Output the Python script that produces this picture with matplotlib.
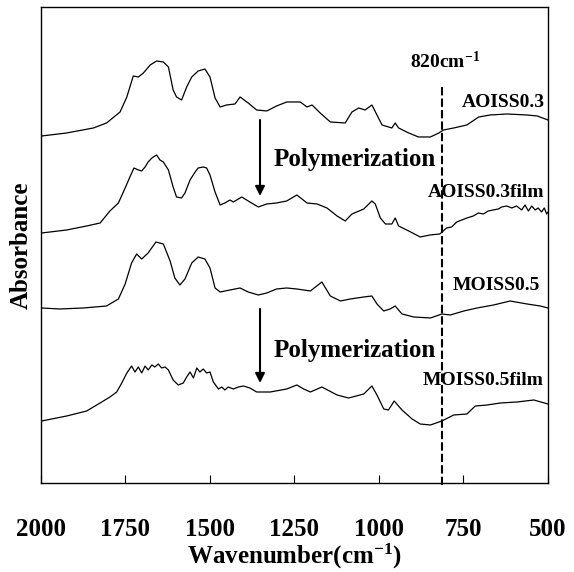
import matplotlib
matplotlib.use("Agg")
import matplotlib.pyplot as plt

# FTIR spectra, absorbance in arbitrary units (offset stacked)
w_aoiss03 = [1998, 1924, 1845, 1806, 1766, 1746, 1727, 1712, 1697, 1677, 1658, 1638, 1623, 1609, 1599,
             1584, 1569, 1554, 1535, 1515, 1500, 1485, 1470, 1451, 1426, 1411, 1387, 1362, 1332, 1303,
             1273, 1233, 1213, 1198, 1174, 1144, 1100, 1080, 1060, 1041, 1021, 1006, 991, 962, 952,
             942, 912, 883, 848, 823, 809, 779, 740, 705, 671, 621, 562, 532, 500]
a_aoiss03 = [3.47, 3.50, 3.55, 3.60, 3.71, 3.86, 4.07, 4.06, 4.10, 4.18, 4.22, 4.21, 4.16, 3.93, 3.86,
             3.83, 3.96, 4.06, 4.12, 4.14, 4.06, 3.85, 3.76, 3.78, 3.79, 3.86, 3.80, 3.73, 3.72, 3.77,
             3.81, 3.81, 3.76, 3.78, 3.70, 3.61, 3.60, 3.71, 3.75, 3.73, 3.78, 3.68, 3.58, 3.55, 3.60,
             3.55, 3.50, 3.46, 3.46, 3.50, 3.53, 3.55, 3.58, 3.66, 3.68, 3.69, 3.68, 3.67, 3.63]

w_aoiss03_film = [1998, 1924, 1865, 1825, 1796, 1771, 1751, 1737, 1725, 1712, 1702, 1692, 1683, 1672,
                  1658, 1648, 1638, 1623, 1609, 1599, 1584, 1574, 1559, 1544, 1535, 1520, 1510, 1500,
                  1485, 1470, 1456, 1441, 1431, 1416, 1406, 1382, 1357, 1332, 1303, 1273, 1243, 1213,
                  1183, 1154, 1124, 1100, 1080, 1045, 1021, 1011, 996, 981, 962, 952, 942, 912, 878,
                  849, 820, 800, 785, 770, 755, 740, 721, 706, 691, 677, 662, 647, 637, 622, 607, 593,
                  578, 568, 558, 548, 538, 529, 519, 511, 504, 500]
a_aoiss03_film = [2.50, 2.53, 2.57, 2.60, 2.72, 2.80, 2.95, 3.06, 3.15, 3.13, 3.12, 3.16, 3.21, 3.25,
                  3.28, 3.23, 3.21, 3.13, 2.96, 2.86, 2.85, 2.90, 3.03, 3.11, 3.15, 3.16, 3.15, 3.08,
                  2.91, 2.78, 2.80, 2.83, 2.81, 2.84, 2.86, 2.81, 2.76, 2.79, 2.80, 2.82, 2.88, 2.80,
                  2.79, 2.75, 2.67, 2.62, 2.69, 2.74, 2.82, 2.79, 2.65, 2.59, 2.59, 2.65, 2.57, 2.52, 2.46,
                  2.48, 2.49, 2.55, 2.56, 2.61, 2.63, 2.65, 2.67, 2.70, 2.69, 2.72, 2.73, 2.74, 2.76,
                  2.77, 2.75, 2.77, 2.73, 2.78, 2.72, 2.77, 2.73, 2.75, 2.71, 2.75, 2.69, 2.71]

w_moiss05 = [1998, 1944, 1875, 1806, 1771, 1751, 1732, 1717, 1702, 1683, 1660, 1638, 1618, 1604, 1589,
             1574, 1554, 1535, 1515, 1500, 1485, 1470, 1441, 1411, 1387, 1357, 1332, 1303, 1273, 1243,
             1203, 1169, 1144, 1114, 1085, 1045, 1021, 1006, 986, 967, 952, 932, 897, 848, 814, 789,
             749, 710, 661, 612, 562, 523, 500]
a_moiss05 = [1.75, 1.74, 1.75, 1.77, 1.84, 1.99, 2.20, 2.29, 2.24, 2.30, 2.41, 2.39, 2.22, 2.05, 1.98,
             2.04, 2.20, 2.26, 2.24, 2.15, 1.95, 1.91, 1.93, 1.95, 1.91, 1.88, 1.90, 1.94, 1.95, 1.94,
             1.92, 2.01, 1.87, 1.82, 1.84, 1.86, 1.87, 1.79, 1.72, 1.74, 1.77, 1.69, 1.66, 1.65, 1.69,
             1.68, 1.72, 1.75, 1.78, 1.82, 1.79, 1.77, 1.75]

w_moiss05_film = [1998, 1924, 1865, 1825, 1796, 1776, 1761, 1746, 1732, 1722, 1712, 1702, 1692, 1683,
                  1672, 1663, 1653, 1643, 1633, 1623, 1609, 1594, 1579, 1569, 1559, 1549, 1539, 1530,
                  1520, 1510, 1500, 1490, 1475, 1465, 1456, 1446, 1431, 1416, 1401, 1382, 1362, 1322,
                  1273, 1243, 1223, 1203, 1169, 1124, 1090, 1045, 1021, 1006, 986, 972, 955, 932, 902,
                  878, 848, 814, 779, 740, 715, 680, 641, 592, 542, 500]
a_moiss05_film = [0.62, 0.67, 0.72, 0.80, 0.86, 0.91, 1.00, 1.10, 1.17, 1.11, 1.16, 1.10, 1.17, 1.13,
                  1.18, 1.16, 1.19, 1.15, 1.16, 1.13, 1.03, 0.98, 1.00, 1.06, 1.11, 1.05, 1.15, 1.11,
                  1.14, 1.10, 1.11, 1.01, 0.94, 0.96, 0.93, 0.96, 0.94, 0.96, 0.97, 0.95, 0.91, 0.91,
                  0.94, 0.98, 0.94, 0.91, 0.96, 0.88, 0.85, 0.89, 0.97, 0.88, 0.74, 0.73, 0.82, 0.73, 0.64,
                  0.59, 0.58, 0.62, 0.68, 0.69, 0.77, 0.78, 0.80, 0.81, 0.83, 0.79]

labels = ["AOISS0.3", "AOISS0.3film", "MOISS0.5", "MOISS0.5film"]
xticks = [2000, 1750, 1500, 1250, 1000, 750, 500]

font = "Liberation Serif"
plt.rcParams["mathtext.fontset"] = "custom"
plt.rcParams["mathtext.rm"] = "Liberation Serif:bold"
plt.rcParams["mathtext.bf"] = "Liberation Serif:bold"
plt.rcParams["mathtext.it"] = "Liberation Serif:bold"

fig = plt.figure(figsize=(5.74, 5.72), dpi=100)
ax = fig.add_axes([0.0714, 0.1556, 0.8833, 0.8322])

for w, a in [(w_aoiss03, a_aoiss03), (w_aoiss03_film, a_aoiss03_film),
             (w_moiss05, a_moiss05), (w_moiss05_film, a_moiss05_film)]:
    ax.plot(w, a, color="black", lw=0.9)

ax.set_xlim(2000, 500)
ax.set_ylim(0, 4.76)
ax.set_xticks(xticks)
ax.set_yticks([])
ax.tick_params(axis="x", direction="in", length=6, width=0.8, pad=25, labelsize=18)
for lab in ax.get_xticklabels():
    lab.set_fontfamily(font)
    lab.set_fontweight("bold")
for s in ax.spines.values():
    s.set_linewidth(1.0)

ax.set_xlabel("Wavenumber(cm$^{-1}$)", fontsize=18, fontweight="bold",
              family=font, labelpad=1)
ax.set_ylabel("Absorbance", fontsize=18, fontweight="bold", family=font, labelpad=6)

# 820 cm-1 marker
ax.axvline(814, ymin=-0.004, ymax=0.836, color="black", lw=1.5, ls=(0, (4, 1.5)), clip_on=False)
ax.text(805, 4.21, "820cm$^{-1}$", fontsize=14, fontweight="bold", family=font,
        ha="center", va="center")

# sample labels
txt = dict(fontsize=14, fontweight="bold", family=font, ha="right", va="center")
ax.text(509, 3.80, labels[0], **txt)
ax.text(512, 2.90, labels[1], **txt)
ax.text(524, 1.97, labels[2], **txt)
ax.text(512, 1.02, labels[3], **txt)

# polymerization arrows
for y0, y1, yt in [(3.63, 2.87, 3.23), (1.74, 1.00, 1.32)]:
    ax.annotate("", xy=(1352, y1), xytext=(1352, y0),
                arrowprops=dict(arrowstyle="-|>", color="black", lw=1.5,
                                mutation_scale=14, shrinkA=0, shrinkB=0))
    ax.text(1311, yt, "Polymerization", fontsize=18, fontweight="bold", family=font,
            ha="left", va="center")

fig.savefig("out.png", dpi=100)
